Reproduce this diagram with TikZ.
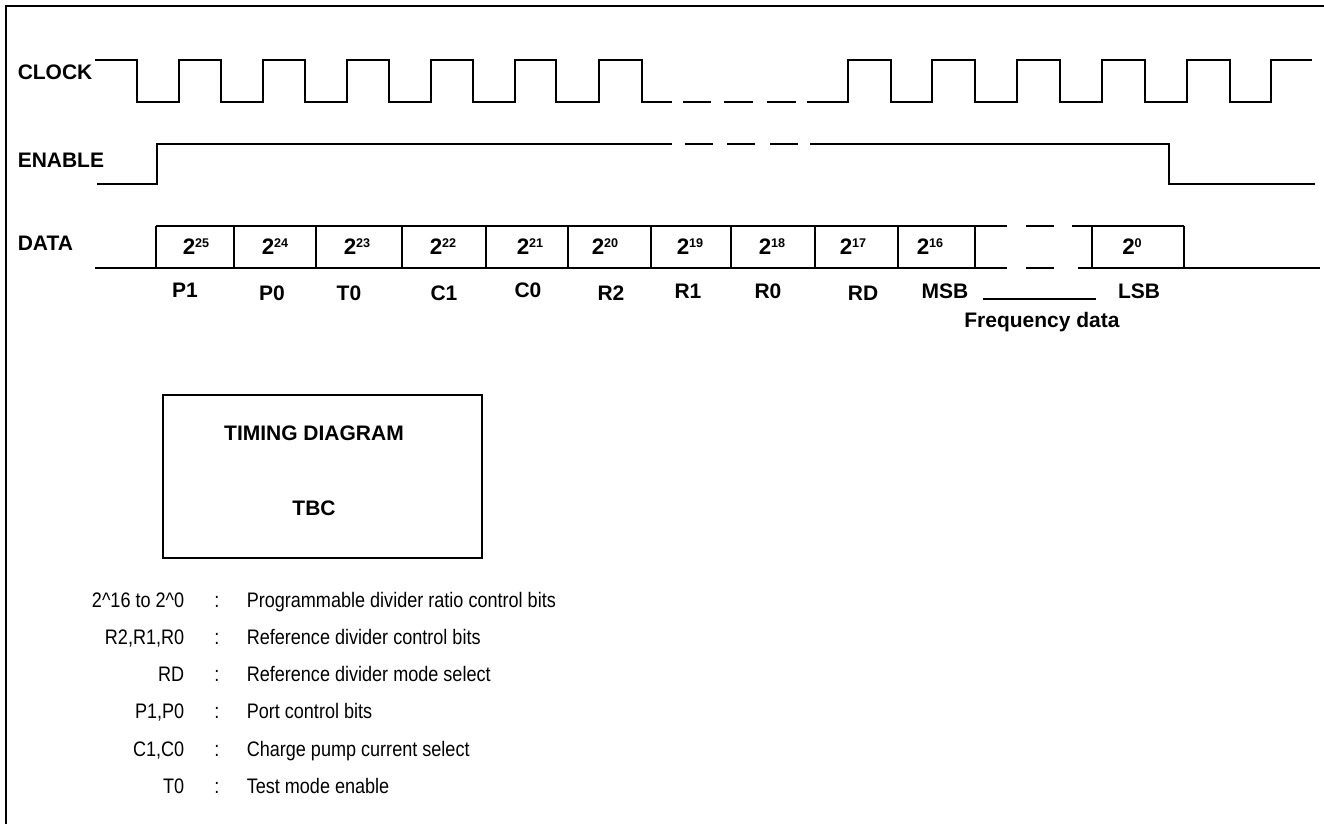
\documentclass[tikz,border=0pt]{standalone}
\usepackage{fontspec}
\setmainfont{Liberation Sans}
\newfontfamily\narrowfont[FakeStretch=0.86]{Liberation Sans}
\newcommand{\pw}[1]{2\raisebox{3.5pt}{\fontsize{6.3}{7}\selectfont #1}}

\begin{document}
\begin{tikzpicture}[x=0.5pt,y=-0.5pt,line width=0.75pt,
	lbl/.style={font=\bfseries\fontsize{10.5}{12}\selectfont,inner sep=0pt},
	bit/.style={font=\bfseries\fontsize{11.2}{13}\selectfont,inner sep=0pt,anchor=base},
	leg/.style={font=\narrowfont\fontsize{10.5}{12}\selectfont,inner sep=0pt}]
	\useasboundingbox (0,0) rectangle (1324,824);
	\draw[line width=1.1pt] (6,824) -- (6,6) -- (1324,6);
	\draw (17,80) node[lbl,anchor=base west] (clk) {CLOCK};
	\draw (17,168) node[lbl,anchor=base west] (en) {ENABLE};
	\draw (17,250) node[lbl,anchor=base west] (dat) {DATA};
	\draw (95,60) -- (137,60) -- (137,102) -- (179,102) -- (179,60) -- (221,60) -- (221,102) -- (263,102) -- (263,60)
		-- (305,60) -- (305,102) -- (347,102) -- (347,60) -- (389,60) -- (389,102) -- (431,102) -- (431,60)
		-- (473,60) -- (473,102) -- (515,102) -- (515,60) -- (556,60) -- (556,102) -- (599,102) -- (599,60)
		-- (642,60) -- (642,102) -- (672,102);
	\draw (683,102) -- (711,102);
	\draw (724,102) -- (753,102);
	\draw (767,102) -- (796,102);
	\draw (807,102) -- (848,102) -- (848,60) -- (891,60) -- (891,102) -- (932,102) -- (932,60) -- (975,60)
		-- (975,102) -- (1017,102) -- (1017,60) -- (1060,60) -- (1060,102) -- (1102,102) -- (1102,60)
		-- (1145,60) -- (1145,102) -- (1187,102) -- (1187,60) -- (1230,60) -- (1230,102) -- (1271,102)
		-- (1271,60) -- (1312,60);
	\draw (97,184) -- (157,184) -- (157,144) -- (672,144);
	\draw (685,144) -- (713,144);
	\draw (727,144) -- (755,144);
	\draw (770,144) -- (798,144);
	\draw (810,144) -- (1169,144) -- (1169,184) -- (1315,184);
	\draw (95,268) -- (1007,268);
	\draw (1026,268) -- (1054,268);
	\draw (1078,268) -- (1320,268);
	\draw (156,226) -- (1007,226);
	\draw (1026,226) -- (1054,226);
	\draw (1072,226) -- (1184,226);
	\draw (156,226) -- (156,267) (234,226) -- (234,268) (316,226) -- (316,268) (402,226) -- (402,268)
		(486,226) -- (486,268) (568,226) -- (568,268) (651,226) -- (651,268) (731,226) -- (731,268)
		(815,226) -- (815,268) (898,226) -- (898,268) (975,226) -- (975,268) (1092,226) -- (1092,268)
		(1184,226) -- (1184,268);
	\draw (196,255) node[bit] (b25) {\pw{25}};
	\draw (275,255) node[bit] (b24) {\pw{24}};
	\draw (357,255) node[bit] (b23) {\pw{23}};
	\draw (443,255) node[bit] (b22) {\pw{22}};
	\draw (530,255) node[bit] (b21) {\pw{21}};
	\draw (605,255) node[bit] (b20) {\pw{20}};
	\draw (690,255) node[bit] (b19) {\pw{19}};
	\draw (772,255) node[bit] (b18) {\pw{18}};
	\draw (853,255) node[bit] (b17) {\pw{17}};
	\draw (930,255) node[bit] (b16) {\pw{16}};
	\draw (1132,255) node[bit] (b0) {\pw{0}};
	\draw (185,297) node[lbl,anchor=base] (p1) {P1};
	\draw (272,300) node[lbl,anchor=base] (p0) {P0};
	\draw (349,300) node[lbl,anchor=base] (t0) {T0};
	\draw (444,300) node[lbl,anchor=base] (c1) {C1};
	\draw (528,298) node[lbl,anchor=base] (c0) {C0};
	\draw (611,300) node[lbl,anchor=base] (r2) {R2};
	\draw (688,299) node[lbl,anchor=base] (r1) {R1};
	\draw (768,299) node[lbl,anchor=base] (r0) {R0};
	\draw (863,300) node[lbl,anchor=base] (rd) {RD};
	\draw (945,299) node[lbl,anchor=base] (msb) {MSB};
	\draw (1139,299) node[lbl,anchor=base] (lsb) {LSB};
	\draw[line width=1pt] (983,299) -- (1096,299);
	\draw (1042,327) node[lbl,anchor=base] (freq) {Frequency data};
	\draw[line width=1pt] (163,395) rectangle (482,558);
	\draw (314,440) node[lbl,anchor=base] (title) {TIMING DIAGRAM};
	\draw (314,515) node[lbl,anchor=base] (tbc) {TBC};
	\draw (185,607) node[leg,anchor=base east] (k1) {2\textasciicircum16 to 2\textasciicircum0};
	\draw (217,607) node[leg,anchor=base] (s1) {:};
	\draw (246,607) node[leg,anchor=base west] (d1) {Programmable divider ratio control bits};
	\draw (185,644) node[leg,anchor=base east] (k2) {R2,R1,R0};
	\draw (217,644) node[leg,anchor=base] (s2) {:};
	\draw (246,644) node[leg,anchor=base west] (d2) {Reference divider control bits};
	\draw (185,681) node[leg,anchor=base east] (k3) {RD};
	\draw (217,681) node[leg,anchor=base] (s3) {:};
	\draw (246,681) node[leg,anchor=base west] (d3) {Reference divider mode select};
	\draw (185,718) node[leg,anchor=base east] (k4) {P1,P0};
	\draw (217,718) node[leg,anchor=base] (s4) {:};
	\draw (246,718) node[leg,anchor=base west] (d4) {Port control bits};
	\draw (185,756) node[leg,anchor=base east] (k5) {C1,C0};
	\draw (217,756) node[leg,anchor=base] (s5) {:};
	\draw (246,756) node[leg,anchor=base west] (d5) {Charge pump current select};
	\draw (185,793) node[leg,anchor=base east] (k6) {T0};
	\draw (217,793) node[leg,anchor=base] (s6) {:};
	\draw (246,793) node[leg,anchor=base west] (d6) {Test mode enable};
\end{tikzpicture}
\end{document}
